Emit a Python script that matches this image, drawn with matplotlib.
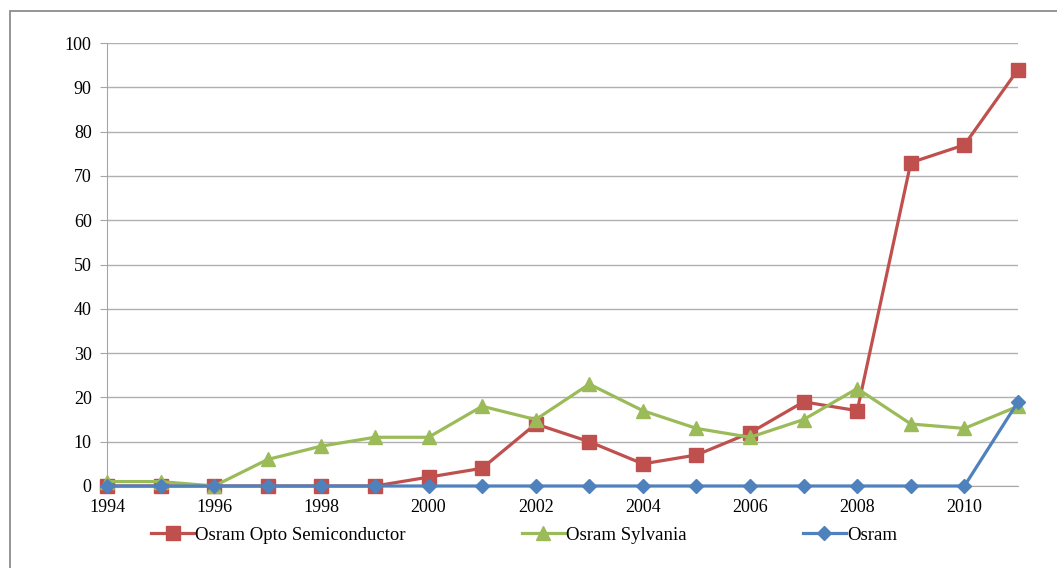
import matplotlib
matplotlib.use("Agg")
import matplotlib.pyplot as plt
from matplotlib.patches import Rectangle

years = list(range(1994, 2012))
opto = [0, 0, 0, 0, 0, 0, 2, 4, 14, 10, 5, 7, 12, 19, 17, 73, 77, 94]
sylvania = [1, 1, 0, 6, 9, 11, 11, 18, 15, 23, 17, 13, 11, 15, 22, 14, 13, 18]
osram = [0, 0, 0, 0, 0, 0, 0, 0, 0, 0, 0, 0, 0, 0, 0, 0, 0, 19]
series_names = ["Osram Opto Semiconductor", "Osram Sylvania", "Osram"]
xticks = list(range(1994, 2012, 2))
yticks = list(range(0, 101, 10))

plt.rcParams['font.family'] = ['Liberation Serif', 'DejaVu Serif']

W, H = 1057, 568
fig = plt.figure(figsize=(W / 100, H / 100), dpi=100)
ax = fig.add_axes([107 / W, 1 - 486 / H, (1018 - 107) / W, (486 - 43) / H])

fig.patches.append(Rectangle((10 / W, -0.1), 1.2, (1 - 11 / H) + 0.1, transform=fig.transFigure,
                             fill=False, edgecolor='#8c8c8c', linewidth=1.3, zorder=0))

red = '#C0504D'
green = '#9BBB59'
blue = '#4F81BD'

ax.plot(years, opto, color=red, lw=2.3, marker='s', ms=9.5, label=series_names[0], zorder=3)
ax.plot(years, sylvania, color=green, lw=2.3, marker='^', ms=10.5, label=series_names[1], zorder=4)
ax.plot(years, osram, color=blue, lw=2.3, marker='D', ms=7.5, label=series_names[2], zorder=5)

ax.set_xlim(1994, 2011)
ax.set_ylim(0, 100)
ax.set_xticks(xticks)
ax.set_yticks(yticks)
ax.yaxis.grid(True, color='#b0b0b0', lw=1)
ax.set_axisbelow(True)
for s in ['top', 'right']:
    ax.spines[s].set_visible(False)
ax.spines['left'].set_color('#a6a6a6')
ax.spines['bottom'].set_color('#a6a6a6')
ax.tick_params(axis='y', length=5, color='#a6a6a6', labelsize=13, pad=6, direction='out')
ax.tick_params(axis='x', length=0, labelsize=13, pad=9)
for ln in ax.lines:
    ln.set_clip_on(False)

leg = fig.legend(loc='center', bbox_to_anchor=(524 / W, 1 - 535 / H), ncol=3, frameon=False,
                 fontsize=13.5, handlelength=2.3, handletextpad=0.05, columnspacing=6.2)

fig.savefig('out.png', dpi=100)
